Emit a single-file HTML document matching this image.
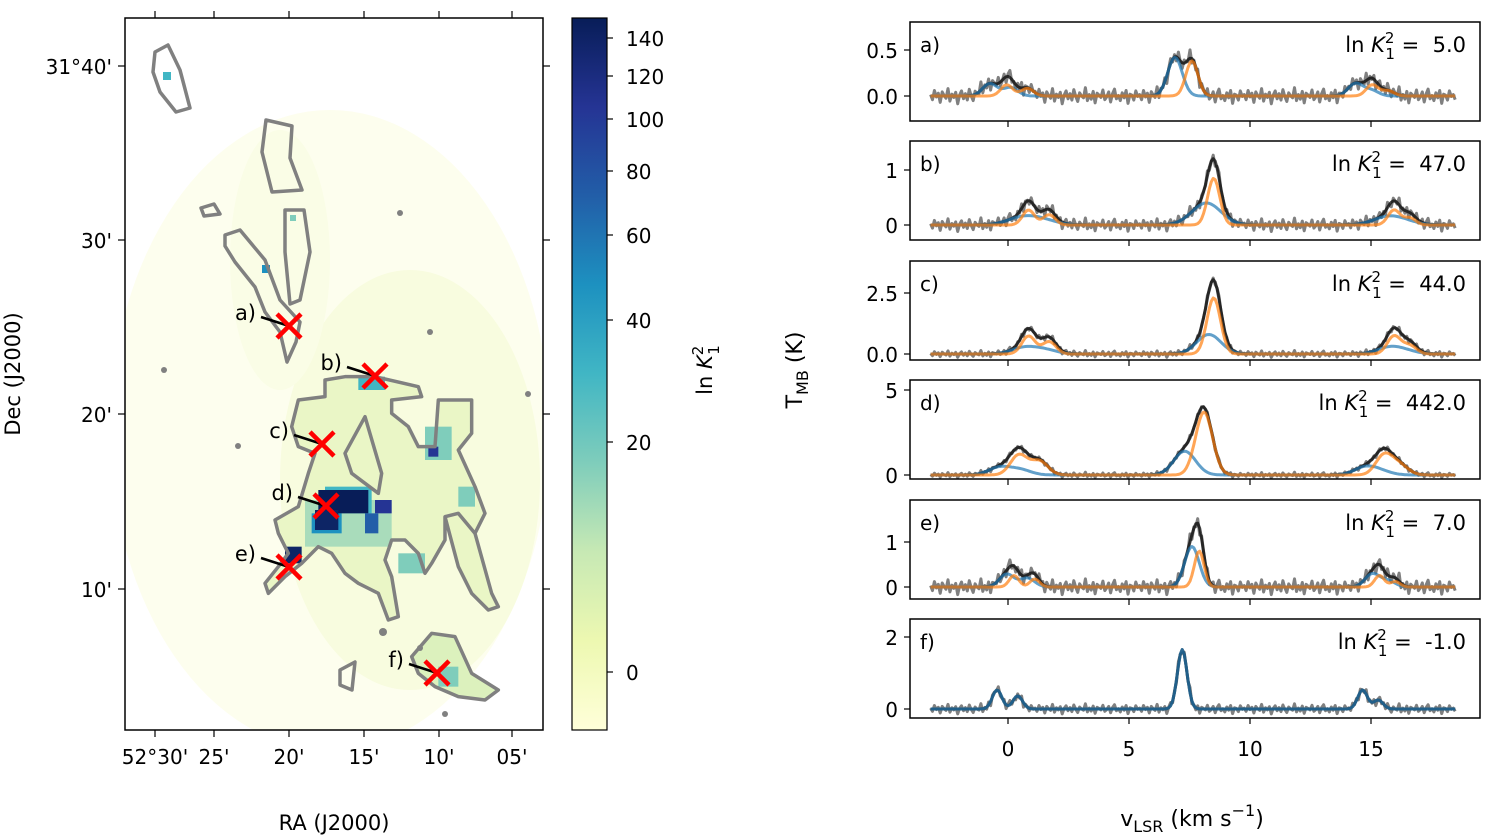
<!DOCTYPE html>
<html><head><meta charset="utf-8">
<style>
body{margin:0;background:#fff;}
svg{display:block;font-family:"DejaVu Sans","Liberation Sans",sans-serif;}
</style></head>
<body>
<svg id="fig" width="1500" height="836" viewBox="0 0 1500 836" xmlns="http://www.w3.org/2000/svg">
<defs>
<linearGradient id="cmap" x1="0" y1="1" x2="0" y2="0">
<stop offset="0" stop-color="#ffffd9"/><stop offset="0.125" stop-color="#edf8b1"/>
<stop offset="0.25" stop-color="#c7e9b4"/><stop offset="0.375" stop-color="#7fcdbb"/>
<stop offset="0.5" stop-color="#41b6c4"/><stop offset="0.625" stop-color="#1d91c0"/>
<stop offset="0.75" stop-color="#225ea8"/><stop offset="0.875" stop-color="#253494"/>
<stop offset="1" stop-color="#081d58"/>
</linearGradient>
<clipPath id="mapclip"><rect x="125" y="18" width="418" height="712"/></clipPath>
</defs>

<g clip-path="url(#mapclip)">
  <rect x="125" y="18" width="418" height="712" fill="#ffffff"/>
  <ellipse cx="330" cy="430" rx="220" ry="320" fill="#fdfeee"/>
  <ellipse cx="410" cy="480" rx="130" ry="210" fill="#f8fcdf"/>
  <ellipse cx="280" cy="260" rx="50" ry="130" fill="#fafde6"/>
  <g transform="translate(125,300) scale(0.33333)">
    <path d="M600,240 L750,230 L880,260 L890,290 L800,300 L800,340 L850,380 L880,440 L930,440 L940,300 L1040,300 L1040,400 L1000,450 L1050,560 L1080,640 L1050,700 L1100,880 L1120,920 L1090,930 L1040,880 L1000,800 L960,650 L960,720 L920,790 L900,820 L880,760 L840,720 L800,720 L780,780 L800,830 L820,950 L790,960 L760,880 L700,850 L660,820 L620,760 L580,740 L530,790 L480,830 L430,880 L420,850 L460,800 L490,760 L460,700 L450,660 L520,620 L550,520 L570,460 L520,440 L500,380 L520,300 L600,290 Z" fill="#eaf6c6"/>
    <rect x="540" y="600" width="260" height="140" fill="#a9dcbb"/>
    <rect x="600" y="560" width="140" height="80" fill="#41b6c4"/>
    <rect x="560" y="640" width="90" height="60" fill="#1d91c0"/>
    <rect x="580" y="570" width="150" height="70" fill="#081d58"/>
    <rect x="570" y="630" width="70" height="60" fill="#0d2565"/>
    <rect x="750" y="600" width="50" height="40" fill="#253494"/>
    <rect x="720" y="640" width="40" height="60" fill="#225ea8"/>
    <rect x="480" y="740" width="50" height="50" fill="#0d2565"/>
    <rect x="900" y="380" width="80" height="100" fill="#7fcdbb"/>
    <rect x="910" y="440" width="30" height="30" fill="#253494"/>
    <rect x="700" y="230" width="80" height="40" fill="#41b6c4"/>
    <rect x="820" y="760" width="80" height="60" fill="#7fcdbb"/>
    <rect x="1000" y="560" width="50" height="60" fill="#7fcdbb"/>
    <path d="M860,1070 L920,1000 L990,1010 L1040,1120 L1120,1170 L1080,1200 L1000,1190 L930,1160 L880,1120 Z" fill="#dcf1bd"/>
    <rect x="940" y="1100" width="60" height="60" fill="#7fcdbb"/>
  </g>
  <rect x="163" y="72" width="8" height="8" fill="#41b6c4"/>
  <rect x="262" y="265" width="8" height="8" fill="#1d91c0"/>
  <rect x="290" y="215" width="6" height="6" fill="#7fcdbb"/>
  <g fill="none" stroke="#808080" stroke-width="3.5" stroke-linejoin="round">
    <g transform="translate(125,300) scale(0.33333)">
      <path vector-effect="non-scaling-stroke" d="M600,240 L660,230 L750,230 L880,260 L890,290 L800,300 L800,340 L850,380 L880,440 L930,440 L940,300 L1040,300 L1040,400 L1000,450 L1050,560 L1080,640 L1050,700 L1100,880 L1120,920 L1090,930 L1040,880 L1000,800 L960,650 L960,720 L920,790 L900,820 L880,760 L840,720 L800,720 L780,780 L800,830 L820,950 L790,960 L760,880 L700,850 L660,820 L620,760 L580,740 L530,790 L480,830 L430,880 L420,850 L460,800 L490,760 L460,700 L450,660 L520,620 L550,520 L570,460 L520,440 L500,380 L520,300 L600,290 Z"/>
      <path vector-effect="non-scaling-stroke" d="M720,350 L770,520 L760,580 L680,520 L660,460 Z"/>
      <path vector-effect="non-scaling-stroke" d="M860,1070 L920,1000 L990,1010 L1040,1120 L1120,1170 L1080,1200 L1000,1190 L930,1160 L880,1120 Z"/>
      <path vector-effect="non-scaling-stroke" d="M960,650 L1000,640 L1050,700"/>
    </g>
    <path d="M155,52 L168,45 L180,70 L190,108 L176,112 L160,92 L153,72 Z"/>
    <path d="M225,235 L240,230 L265,260 L280,300 L300,322 L296,342 L287,362 L280,332 L265,312 L255,287 L235,262 L225,246 Z"/>
    <path d="M266,120 L292,126 L290,158 L302,190 L272,192 L262,152 Z"/>
    <path d="M201,208 L214,204 L220,214 L204,216 Z"/>
    <path d="M285,210 L304,210 L310,252 L300,300 L290,304 L285,252 Z"/>
    <path d="M340,670 L355,662 L352,690 L340,685 Z"/>
  </g>
  <g fill="#808080">
    <circle cx="400" cy="213" r="3"/><circle cx="430" cy="332" r="3"/><circle cx="164" cy="370" r="3"/>
    <circle cx="528" cy="394" r="3"/><circle cx="238" cy="446" r="3"/><circle cx="445" cy="714" r="3"/>
    <circle cx="383" cy="632" r="4"/><circle cx="420" cy="648" r="3"/>
  </g>
</g>

<g id="markers"></g>
<rect x="125" y="18" width="418" height="712" fill="none" stroke="#000" stroke-width="1.5"/>
<g id="mapaxes"></g>

<g>
  <rect x="572" y="18" width="35" height="712" fill="url(#cmap)" stroke="#000" stroke-width="1.2"/>
  <g id="cbticks"></g>
  <text transform="translate(712,370) rotate(-90)" text-anchor="middle" font-size="21">ln <tspan font-style="italic">K</tspan><tspan font-size="15" dy="-9">2</tspan><tspan font-size="15" dx="-9" dy="16">1</tspan></text>
</g>

<g id="spectra"></g>
<text transform="translate(802,370) rotate(-90)" text-anchor="middle" font-size="22">T<tspan font-size="16" dy="6">MB</tspan><tspan dy="-6"> (K)</tspan></text>
<text x="1192" y="826" text-anchor="middle" font-size="22">v<tspan font-size="16" dy="6">LSR</tspan><tspan dy="-6"> (km s</tspan><tspan font-size="16" dy="-10">−1</tspan><tspan dy="10">)</tspan></text>
<text x="334" y="830" text-anchor="middle" font-size="21">RA (J2000)</text>
<text transform="translate(20,374) rotate(-90)" text-anchor="middle" font-size="21">Dec (J2000)</text>
</svg>

<script>
const NS = "http://www.w3.org/2000/svg";
// ---- map data ----
const raLabels = ["52°30'", "25'", "20'", "15'", "10'", "05'"];
const raPix = [155, 214, 289, 364, 439, 512];
const decLabels = ["31°40'", "30'", "20'", "10'"];
const decPix = [66, 240, 414, 589];
const markerLabels = ["a)", "b)", "c)", "d)", "e)", "f)"];
const markerX = [289, 375, 322, 326, 289, 437];
const markerY = [326, 376, 444, 506, 567, 673];
// ---- colorbar data ----
const cbValues = [140, 120, 100, 80, 60, 40, 20, 0];
const cbPix = [38, 76, 119, 171, 235, 320, 442, 672];
// ---- spectra data ----
const panelLabels = ["a)", "b)", "c)", "d)", "e)", "f)"];
const kValues = ["5.0", "47.0", "44.0", "442.0", "7.0", "-1.0"];
const blueV = [6.9, 8.2, 8.3, 7.3, 7.6, 7.2];
const blueA = [0.42, 0.4, 0.8, 1.4, 0.9, 1.65];
const blueS = [0.3, 0.6, 0.5, 0.45, 0.3, 0.2];
const orangeV = [7.6, 8.5, 8.5, 8.1, 7.9, null];
const orangeA = [0.38, 0.85, 2.3, 3.7, 0.8, 0];
const orangeS = [0.25, 0.25, 0.28, 0.35, 0.2, 0.2];
const hfOffsets = [-7.65, -6.8, 0, 7.45, 8.1];
const hfRel = [0.32, 0.22, 1, 0.32, 0.15];
const noiseLevel = [0.05, 0.07, 0.08, 0.09, 0.1, 0.08];
const yTickVals = [[0.0, 0.5], [0, 1], [0.0, 2.5], [0, 5], [0, 1], [0, 2]];
const yTickText = [["0.0", "0.5"], ["0", "1"], ["0.0", "2.5"], ["0", "5"], ["0", "1"], ["0", "2"]];
const yZeroPix = [96, 225, 354, 475, 587, 709];
const yPerUnit = [92, 55, 24.4, 17, 45, 36];
const panelTop = [22, 141, 261, 380, 500, 619];
const xTicks = [0, 5, 10, 15];
const noise = [0.3,-0.8,1.2,-0.2,0.6,-1.4,0.9,0.1,-0.5,1.6,-1.1,0.4,-0.3,0.8,-1.7,0.2,1.1,-0.6,0.5,-0.9,1.4,-0.1,-1.2,0.7,0.0,-0.4,1.8,-1.0,0.3,-0.7,1.0,-1.5,0.6,0.2,-0.3,1.3,-0.8,-0.2,0.9,-1.3,0.5,1.5,-0.6,0.1,-1.0,0.7,-0.4,1.2,-1.6,0.4,0.2,-0.9,1.1,-0.1];

function el(tag, attrs, parent){ const e=document.createElementNS(NS,tag); for(const k in attrs) e.setAttribute(k,attrs[k]); parent.appendChild(e); return e; }

const ma = document.getElementById('mapaxes');
raPix.forEach((x,i)=>{
  el('line',{x1:x,y1:730,x2:x,y2:737,stroke:'#000','stroke-width':1.2},ma);
  el('line',{x1:x,y1:18,x2:x,y2:11,stroke:'#000','stroke-width':1.2},ma);
  const t=el('text',{x:x,y:764,'text-anchor':'middle','font-size':20},ma); t.textContent=raLabels[i];
  
  
});
decPix.forEach((y,i)=>{
  el('line',{x1:125,y1:y,x2:118,y2:y,stroke:'#000','stroke-width':1.2},ma);
  el('line',{x1:543,y1:y,x2:550,y2:y,stroke:'#000','stroke-width':1.2},ma);
  const t=el('text',{x:112,y:y+8,'text-anchor':'end','font-size':20},ma); t.textContent=decLabels[i];
  
  
});
const mk = document.getElementById('markers');
markerLabels.forEach((lab,i)=>{
  const x=markerX[i], y=markerY[i];
  el('line',{x1:x-28,y1:y-9,x2:x,y2:y,stroke:'#000','stroke-width':2.5},mk);
  const g=el('g',{},mk);
  
  
  el('line',{x1:x-12,y1:y-12,x2:x+12,y2:y+12,stroke:'#f00','stroke-width':4.5},g);
  el('line',{x1:x-12,y1:y+12,x2:x+12,y2:y-12,stroke:'#f00','stroke-width':4.5},g);
  const t=el('text',{x:x-33,y:y-6,'text-anchor':'end','font-size':21},mk); t.textContent=lab;
  
  
});
const cb=document.getElementById('cbticks');
cbValues.forEach((v,i)=>{
  const y=cbPix[i];
  el('line',{x1:607,y1:y,x2:613,y2:y,stroke:'#000','stroke-width':1.2},cb);
  const t=el('text',{x:626,y:y+8,'font-size':20},cb); t.textContent=String(v);
  
  
});

const X0=1008, XPU=24.2, PX0=910, PX1=1480, PH=99;
const xs=v=>X0+v*XPU;
function comp(v,c,a,s){ if(c===null||a===0) return 0; let r=0; for(let k=0;k<hfOffsets.length;k++){const d=v-(c+hfOffsets[k]); r+=a*hfRel[k]*Math.exp(-d*d/(2*s*s));} return r; }
const sp=document.getElementById('spectra');
const vmin=-3.2, vmax=18.5, dv=0.08;
panelLabels.forEach((lab,p)=>{
  const g=el('g',{},sp);
  
  
  const top=panelTop[p];
  const cid='clip'+p;
  const cp=el('clipPath',{id:cid},g); el('rect',{x:PX0,y:top,width:PX1-PX0,height:PH},cp);
  const ys=val=>yZeroPix[p]-val*yPerUnit[p];
  let dPts=[],sPts=[],bPts=[],oPts=[];
  let i=0;
  for(let v=vmin; v<=vmax; v+=dv, i++){
    const b=comp(v,blueV[p],blueA[p],blueS[p]);
    const o=comp(v,orangeV[p],orangeA[p],orangeS[p]);
    const s=b+o;
    const d=s+noise[i%noise.length]*noiseLevel[p];
    const x=xs(v).toFixed(1);
    dPts.push(x+','+ys(d).toFixed(1)); sPts.push(x+','+ys(s).toFixed(1));
    bPts.push(x+','+ys(b).toFixed(1)); oPts.push(x+','+ys(o).toFixed(1));
  }
  const lg=el('g',{'clip-path':'url(#'+cid+')',fill:'none','stroke-linejoin':'round'},g);
  const dl=el('polyline',{points:dPts.join(' '),stroke:'#808080','stroke-width':3},lg);
  
  
  const sl=el('polyline',{points:sPts.join(' '),stroke:'#000','stroke-opacity':0.7,'stroke-width':3},lg);
  
  
  const bl=el('polyline',{points:bPts.join(' '),stroke:'#1f77b4','stroke-opacity':0.7,'stroke-width':3},lg);
  
  
  if(orangeV[p]!==null){
    const ol=el('polyline',{points:oPts.join(' '),stroke:'#ff7f0e','stroke-opacity':0.7,'stroke-width':3},lg);
    
    
  }
  el('rect',{x:PX0,y:top,width:PX1-PX0,height:PH,fill:'none',stroke:'#000','stroke-width':1.5},g);
  xTicks.forEach(v=>{ el('line',{x1:xs(v),y1:top+PH,x2:xs(v),y2:top+PH+6,stroke:'#000','stroke-width':1.2},g); });
  yTickVals[p].forEach((v,k)=>{
    const y=ys(v);
    el('line',{x1:PX0,y1:y,x2:PX0-6,y2:y,stroke:'#000','stroke-width':1.2},g);
    const t=el('text',{x:PX0-12,y:y+8,'text-anchor':'end','font-size':20},g); t.textContent=yTickText[p][k];
    
    
  });
  const pl=el('text',{x:920,y:top+30,'font-size':20},g); pl.textContent=lab;
  
  
  const kt=el('text',{x:1466,y:top+30,'text-anchor':'end','font-size':21},g);
  
  
  kt.innerHTML='ln <tspan font-style="italic">K</tspan><tspan font-size="15" dy="-9">2</tspan><tspan font-size="15" dx="-9" dy="16">1</tspan><tspan dy="-7" xml:space="preserve"> =  '+kValues[p]+'</tspan>';
});
xTicks.forEach(v=>{
  const t=el('text',{x:xs(v),y:756,'text-anchor':'middle','font-size':20},sp); t.textContent=String(v);
  
  
});
</script>
</body></html>
